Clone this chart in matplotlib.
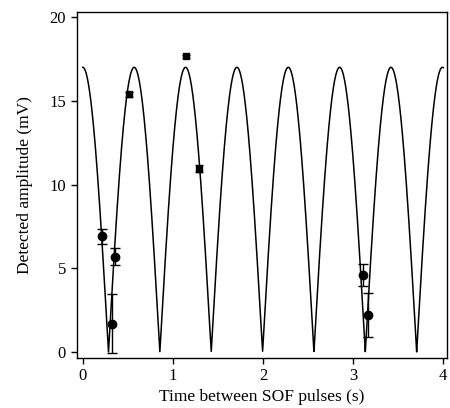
import numpy as np
import matplotlib.pyplot as plt

plt.rcParams['font.family'] = ['Liberation Serif', 'DejaVu Serif']

# measured points (circles)
circ_t = [0.21, 0.32, 0.355, 3.11, 3.17]
circ_amp = [6.9, 1.7, 5.7, 4.6, 2.2]
circ_err = [0.45, 1.75, 0.5, 0.65, 1.3]

# measured points (squares)
sq_t = [0.51, 1.14, 1.29]
sq_amp = [15.4, 17.65, 10.95]
sq_err = [0.15, 0.1, 0.2]

# fitted model |cos| curve
fit_amp = 17.0
fit_period = 0.57
t_fit = np.linspace(0, 4.0, 4000)
amp_fit = fit_amp * np.abs(np.cos(np.pi * t_fit / fit_period))

fig = plt.figure(figsize=(4.5, 4.08), dpi=100)
ax = fig.add_axes([0.17, 0.1225, 0.823, 0.848])

ax.plot(t_fit, amp_fit, color='black', lw=1.1)
ax.errorbar(circ_t, circ_amp, yerr=circ_err, fmt='o', color='black',
            ms=6, capsize=3.5, elinewidth=1, capthick=1)
ax.errorbar(sq_t, sq_amp, yerr=sq_err, fmt='s', color='black',
            ms=5, capsize=3, elinewidth=1, capthick=1)

ax.set_xlim(-0.07, 4.04)
ax.set_ylim(-0.36, 20.3)
ax.set_xticks([0, 1, 2, 3, 4])
ax.set_yticks([0, 5, 10, 15, 20])
ax.tick_params(direction='out', length=4.5, width=1, labelsize=12, pad=3)
for s in ax.spines.values():
    s.set_linewidth(1)

ax.set_xlabel('Time between SOF pulses (s)', fontsize=12.5, labelpad=3)
ax.set_ylabel('Detected amplitude (mV)', fontsize=12.5, labelpad=12)

fig.savefig('out.png', dpi=100)
